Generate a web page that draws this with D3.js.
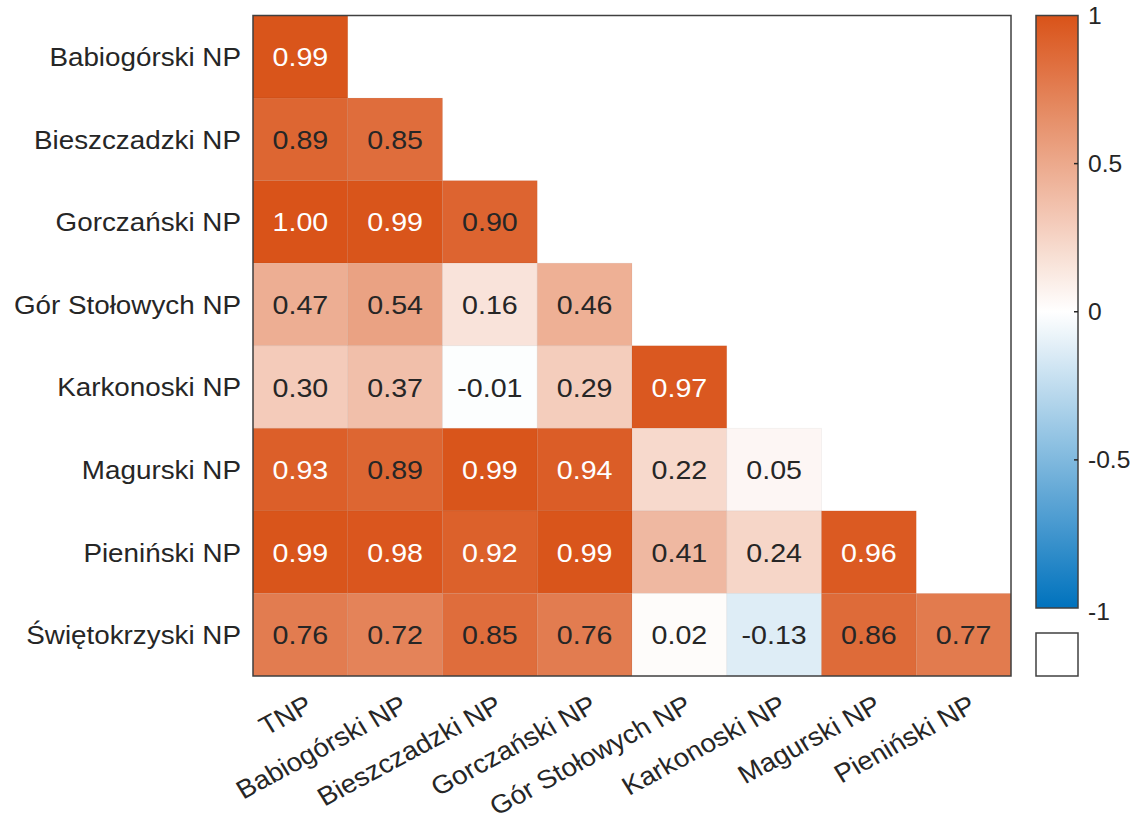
<!DOCTYPE html>
<html>
<head>
<meta charset="utf-8">
<script src="https://cdn.jsdelivr.net/npm/d3@7/dist/d3.min.js"></script>
<style>
  html, body { margin: 0; padding: 0; background: #fff; }
  svg { display: block; }
  text { font-family: "Liberation Sans", Arial, Helvetica, sans-serif; }
</style>
</head>
<body>
<svg id="chart" width="1132" height="826"></svg>
<script>
// Correlation between national parks (lower triangle only)
const rowLabels = ["Babiogórski NP", "Bieszczadzki NP", "Gorczański NP", "Gór Stołowych NP",
                   "Karkonoski NP", "Magurski NP", "Pieniński NP", "Świętokrzyski NP"];
const colLabels = ["TNP", "Babiogórski NP", "Bieszczadzki NP", "Gorczański NP",
                   "Gór Stołowych NP", "Karkonoski NP", "Magurski NP", "Pieniński NP"];
const rowBabiogorski    = [0.99];
const rowBieszczadzki   = [0.89, 0.85];
const rowGorczanski     = [1.00, 0.99, 0.90];
const rowGorStolowych   = [0.47, 0.54, 0.16, 0.46];
const rowKarkonoski     = [0.30, 0.37, -0.01, 0.29, 0.97];
const rowMagurski       = [0.93, 0.89, 0.99, 0.94, 0.22, 0.05];
const rowPieninski      = [0.99, 0.98, 0.92, 0.99, 0.41, 0.24, 0.96];
const rowSwietokrzyski  = [0.76, 0.72, 0.85, 0.76, 0.02, -0.13, 0.86, 0.77];
const colorbarTicks = [1, 0.5, 0, -0.5, -1];

const rows = [rowBabiogorski, rowBieszczadzki, rowGorczanski, rowGorStolowych,
              rowKarkonoski, rowMagurski, rowPieninski, rowSwietokrzyski];

const svg = d3.select("#chart");
const plot = { left: 253, right: 1011, top: 15.5, bottom: 676 };
const cbar = { left: 1036, right: 1078, top: 15.5, bottom: 608, nanTop: 633, nanBottom: 676 };
const textColor = "#262626";
const sx = 1.07; // slightly wide lettering

const x = d3.scaleBand().domain(colLabels).range([plot.left, plot.right]);
const y = d3.scaleBand().domain(rowLabels).range([plot.top, plot.bottom]);
const color = d3.scaleLinear().domain([-1, 0, 1]).range(["#0072BD", "#FFFFFF", "#D95319"]);

const fmt = d3.formatLocale({ decimal: ".", thousands: ",", grouping: [3], currency: ["", ""], minus: "-" }).format(".2f");

const cells = [];
rows.forEach((vals, i) => vals.forEach((v, j) => cells.push({ row: rowLabels[i], col: colLabels[j], v })));

// cell background (missing cells stay white)
svg.append("rect")
  .attr("x", plot.left).attr("y", plot.top)
  .attr("width", plot.right - plot.left).attr("height", plot.bottom - plot.top)
  .attr("fill", "#fff");

const g = svg.append("g");
g.selectAll("rect.cell").data(cells).join("rect")
  .attr("class", "cell")
  .attr("x", d => x(d.col)).attr("y", d => y(d.row))
  .attr("width", x.bandwidth()).attr("height", y.bandwidth())
  .attr("fill", d => color(d.v))
  .attr("stroke", "rgba(0,0,0,0.04)").attr("stroke-width", 1);

function lum(c) {
  const r = d3.rgb(c);
  return (0.299 * r.r + 0.587 * r.g + 0.114 * r.b) / 255;
}

g.selectAll("text.val").data(cells).join("text")
  .attr("class", "val")
  .attr("transform", d => `translate(${x(d.col) + x.bandwidth() / 2},${y(d.row) + y.bandwidth() / 2}) scale(1.08,1)`)
  .attr("dy", "0.36em")
  .attr("text-anchor", "middle")
  .attr("font-size", 26.5)
  .attr("fill", d => lum(color(d.v)) < 0.505 ? "#fff" : textColor)
  .text(d => fmt(d.v));

// axes box
svg.append("rect")
  .attr("x", plot.left).attr("y", plot.top)
  .attr("width", plot.right - plot.left).attr("height", plot.bottom - plot.top)
  .attr("fill", "none").attr("stroke", "#404040").attr("stroke-width", 1.5);

// row labels
svg.selectAll("text.rowlab").data(rowLabels).join("text")
  .attr("class", "rowlab")
  .attr("transform", d => `translate(${plot.left - 12},${y(d) + y.bandwidth() / 2}) scale(${sx},1)`)
  .attr("dy", "0.36em")
  .attr("text-anchor", "end")
  .attr("font-size", 26)
  .attr("fill", textColor)
  .text(d => d);

// column labels, rotated
svg.selectAll("text.collab").data(colLabels).join("text")
  .attr("class", "collab")
  .attr("transform", d => `translate(${x(d) + x.bandwidth() / 2 + 9},${plot.bottom + 26}) scale(${sx},1) rotate(-30)`)
  .attr("dy", "0.36em")
  .attr("text-anchor", "end")
  .attr("font-size", 26)
  .attr("fill", textColor)
  .text(d => d);

// colorbar
const cy = d3.scaleLinear().domain([-1, 1]).range([cbar.bottom, cbar.top]);
const defs = svg.append("defs");
const grad = defs.append("linearGradient").attr("id", "cbgrad")
  .attr("x1", 0).attr("y1", 1).attr("x2", 0).attr("y2", 0);
grad.selectAll("stop").data(d3.range(0, 1.0001, 0.05)).join("stop")
  .attr("offset", d => d)
  .attr("stop-color", d => color(-1 + 2 * d));

svg.append("rect")
  .attr("x", cbar.left).attr("y", cbar.top)
  .attr("width", cbar.right - cbar.left).attr("height", cbar.bottom - cbar.top)
  .attr("fill", "url(#cbgrad)")
  .attr("stroke", "#404040").attr("stroke-width", 1.5);

svg.selectAll("line.cbtick").data(colorbarTicks.filter(t => t > -1 && t < 1)).join("line")
  .attr("class", "cbtick")
  .attr("x1", cbar.right - 4).attr("x2", cbar.right)
  .attr("y1", d => cy(d)).attr("y2", d => cy(d))
  .attr("stroke", "#262626").attr("stroke-width", 1.5);

svg.selectAll("text.cblab").data(colorbarTicks).join("text")
  .attr("class", "cblab")
  .attr("transform", d => `translate(${cbar.right + 10},${cy(d) + (d === -1 ? 4 : 0)}) scale(${sx},1)`)
  .attr("dy", "0.36em")
  .attr("font-size", 23)
  .attr("fill", textColor)
  .text(d => String(d).replace("\u2212", "-"));

// missing-value swatch
svg.append("rect")
  .attr("x", cbar.left).attr("y", cbar.nanTop)
  .attr("width", cbar.right - cbar.left).attr("height", cbar.nanBottom - cbar.nanTop)
  .attr("fill", "#fff")
  .attr("stroke", "#404040").attr("stroke-width", 1.5);
</script>
</body>
</html>
